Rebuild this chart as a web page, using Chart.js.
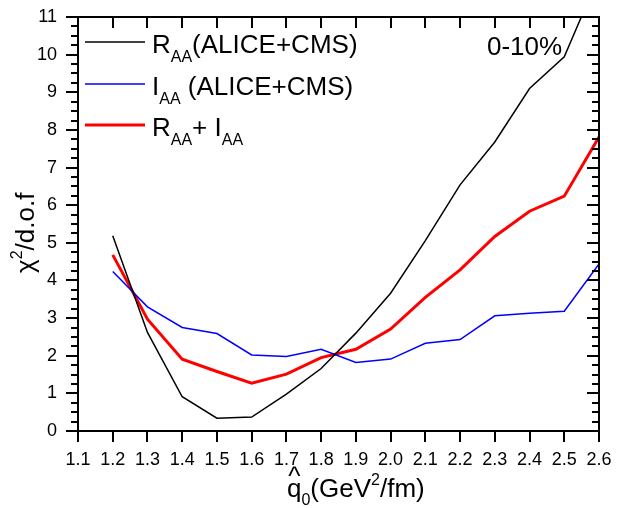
<!DOCTYPE html>
<html><head><meta charset="utf-8">
<script src="https://cdn.jsdelivr.net/npm/chart.js@4/dist/chart.umd.min.js"></script>
<style>html,body{margin:0;padding:0;background:#fff}#wrap{width:619px;height:508px}</style>
</head><body><div id="wrap"><canvas id="c" width="619" height="508"></canvas></div>
<script>
const qValues = [1.2,1.3,1.4,1.5,1.6,1.7,1.8,1.9,2.0,2.1,2.2,2.3,2.4,2.5,2.6];
const chiRAA  = [5.19,2.62,0.91,0.34,0.37,0.98,1.66,2.60,3.66,5.06,6.54,7.68,9.10,9.94,12.1];
const chiIAA  = [4.24,3.30,2.75,2.59,2.02,1.98,2.17,1.82,1.91,2.33,2.43,3.06,3.13,3.18,4.44];
const chiBoth = [4.68,2.97,1.91,1.58,1.27,1.51,1.95,2.17,2.71,3.55,4.28,5.17,5.84,6.24,7.81];
const xTicks = [1.1,1.2,1.3,1.4,1.5,1.6,1.7,1.8,1.9,2.0,2.1,2.2,2.3,2.4,2.5,2.6];
const yTicks = [0,1,2,3,4,5,6,7,8,9,10,11];
const yMinorStep = 0.25;
const seriesNames = ['R|AA|(ALICE+CMS)', 'I|AA| (ALICE+CMS)', 'R|AA|+ I|AA|'];
const panelLabel = '0-10%';

const FONT = '"Liberation Sans", Arial, sans-serif';

function pts(ys){ return qValues.map((x,i)=>({x:x,y:ys[i]})); }

// draw text where segments alternate normal|sub|normal|sub...
function drawSubText(ctx, str, x, y, size, subSize, subDy){
  const parts = str.split('|');
  parts.forEach((p,i)=>{
    const sub = i % 2 === 1;
    ctx.font = (sub ? subSize : size) + 'px ' + FONT;
    ctx.fillText(p, x, y + (sub ? subDy : 0));
    x += ctx.measureText(p).width;
  });
  return x;
}

const decor = {
  id: 'decor',
  afterDraw(chart){
    const ctx = chart.ctx;
    const a = chart.chartArea;
    const xs = chart.scales.x, ys = chart.scales.y;
    ctx.save();
    ctx.strokeStyle = '#000';
    ctx.fillStyle = '#000';
    ctx.lineWidth = 2;
    ctx.strokeRect(a.left, a.top, a.right - a.left, a.bottom - a.top);
    // y ticks
    ctx.lineWidth = 2;
    ctx.beginPath();
    for (let v = 0; v <= 11 + 1e-9; v += yMinorStep){
      const py = Math.round(ys.getPixelForValue(v));
      const major = Math.abs(v - Math.round(v)) < 1e-6;
      const len = major ? 12 : 7;
      ctx.moveTo(a.left - len, py); ctx.lineTo(a.left, py);
      ctx.moveTo(a.right, py); ctx.lineTo(a.right - len, py);
    }
    // x ticks
    xTicks.forEach(v=>{
      const px = Math.round(xs.getPixelForValue(v));
      ctx.moveTo(px, a.bottom); ctx.lineTo(px, a.bottom + 11);
      ctx.moveTo(px, a.top); ctx.lineTo(px, a.top + 11);
    });
    ctx.stroke();

    // legend
    const colors = ['#000000','#0000ff','#ff0000'];
    const widths = [1.5,1.5,3];
    const rowsY = [42, 84, 125];
    ctx.textBaseline = 'alphabetic';
    ctx.textAlign = 'left';
    seriesNames.forEach((n,i)=>{
      ctx.strokeStyle = colors[i]; ctx.lineWidth = widths[i];
      ctx.beginPath(); ctx.moveTo(85, rowsY[i]); ctx.lineTo(145, rowsY[i]); ctx.stroke();
      ctx.fillStyle = '#000';
      drawSubText(ctx, n, 152, rowsY[i] + 11, 26, 16, 9);
    });
    // panel label
    ctx.font = '26px ' + FONT;
    ctx.fillText(panelLabel, 487, 55);

    // x title: q-hat_0 (GeV^2/fm)
    let x = 287, by = 497;
    ctx.font = '26px ' + FONT;
    const qw = ctx.measureText('q').width;
    ctx.fillText('q', x, by);
    ctx.font = '26px ' + FONT;
    ctx.textAlign = 'center';
    ctx.fillText('^', x + qw/2, by - 12);
    ctx.textAlign = 'left';
    x += qw;
    ctx.font = '16px ' + FONT;
    ctx.fillText('0', x, by + 8);
    x += ctx.measureText('0').width;
    ctx.font = '26px ' + FONT;
    ctx.fillText('(GeV', x, by);
    x += ctx.measureText('(GeV').width;
    ctx.font = '16px ' + FONT;
    ctx.fillText('2', x, by - 12);
    x += ctx.measureText('2').width;
    ctx.font = '26px ' + FONT;
    ctx.fillText('/fm)', x, by);

    // y title
    ctx.translate(34, 273);
    ctx.rotate(-Math.PI/2);
    let t = 0;
    ctx.font = '26px ' + FONT;
    ctx.fillText('\u03c7', t, 0);
    t += ctx.measureText('\u03c7').width;
    ctx.font = '16px ' + FONT;
    ctx.fillText('2', t, -12);
    t += ctx.measureText('2').width;
    ctx.font = '26px ' + FONT;
    ctx.fillText('/d.o.f', t, 0);
    ctx.restore();
  }
};

new Chart(document.getElementById('c'), {
  type: 'line',
  data: {
    datasets: [
      {data: pts(chiRAA), borderColor: '#000000', borderWidth: 1.5},
      {data: pts(chiIAA), borderColor: '#0000ff', borderWidth: 1.5},
      {data: pts(chiBoth), borderColor: '#ff0000', borderWidth: 3}
    ]
  },
  options: {
    responsive: false,
    animation: false,
    devicePixelRatio: 1,
    layout: {padding: {top: 17, right: 20, left: 0, bottom: 0}},
    elements: {point: {radius: 0}, line: {tension: 0, fill: false}},
    plugins: {legend: {display: false}, tooltip: {enabled: false}},
    scales: {
      x: {
        type: 'linear', min: 1.1, max: 2.6,
        afterBuildTicks: s => { s.ticks = xTicks.map(v=>({value:v})); },
        afterFit: s => { s.height = 77; s.paddingLeft = 0; s.paddingRight = 0; },
        grid: {display: false}, border: {display: false},
        ticks: {color: '#000', padding: 10, maxRotation: 0, autoSkip: false,
          font: {family: FONT, size: 18}, callback: v => Number(v).toFixed(1)}
      },
      y: {
        min: 0, max: 11,
        afterBuildTicks: s => { s.ticks = yTicks.map(v=>({value:v})); },
        afterFit: s => { s.width = 78; s.paddingTop = 0; s.paddingBottom = 0; },
        grid: {display: false}, border: {display: false},
        ticks: {color: '#000', padding: 13, font: {family: FONT, size: 18},
          callback: v => String(v)}
      }
    }
  },
  plugins: [decor]
});
</script>
</body></html>
